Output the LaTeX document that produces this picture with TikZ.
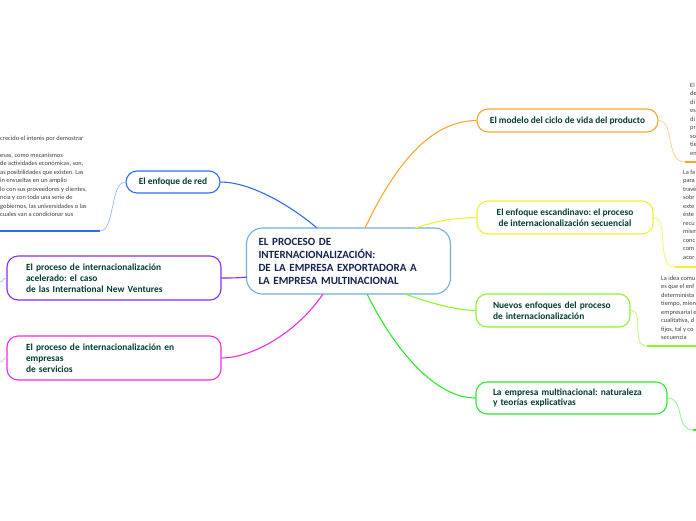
\documentclass[tikz,border=0pt]{standalone}
\usepackage{fontspec}
\setmainfont{Carlito}
\frenchspacing
\begin{document}
\begin{tikzpicture}[x=1pt,y=-1pt,
  box/.style={draw,rounded corners=11pt,line width=1.1pt,fill=white,font=\bfseries\fontsize{9.4}{10.8}\selectfont,text=green!30!black!80!blue,inner ysep=0pt,minimum height=#1},
  sm/.style={anchor=north west,align=left,inner sep=0pt,font=\fontsize{6.4}{8.5}\selectfont,text=black!75},
  con/.style={line width=#1},
  con/.default=0.9pt]
\useasboundingbox (0,0) rectangle (696,520);
\clip (0,0) rectangle (696,520);
\definecolor{cen}{HTML}{6FAEDD}
\definecolor{org}{HTML}{FFA62B}
\definecolor{yel}{HTML}{F5F02A}
\definecolor{lgr}{HTML}{8EF52A}
\definecolor{grn}{HTML}{2EE82E}
\definecolor{blu}{HTML}{2F6BF0}
\definecolor{pur}{HTML}{8A2BF0}
\definecolor{mag}{HTML}{EE2BE8}
% central
\node[box=66pt,draw=cen,line width=1.1pt,rounded corners=16pt,text width=180pt,align=left,inner xsep=12pt,font=\bfseries\fontsize{11}{13}\selectfont,text={rgb,255:red,20;green,35;blue,80},minimum width=203pt] (c) at (348.5,261) {EL PROCESO DE\\INTERNACIONALIZACIÓN:\\DE LA EMPRESA EXPORTADORA A\\LA EMPRESA MULTINACIONAL};
\coordinate (c1) at (365,228);
\coordinate (c2) at (415,228);
\coordinate (c3) at (405,294);
\coordinate (c4) at (367,294);
\coordinate (c5) at (317,228);
\coordinate (c6) at (247,277);
\coordinate (c7) at (323,294);
% right nodes
\node[box=23pt,draw=org,minimum width=181pt] (n1) at (567.5,120.5) {El modelo del ciclo de vida del producto};
\node[box=33pt,draw=yel,minimum width=176pt,align=center] (n2) at (565,217.5) {El enfoque escandinavo: el proceso\\de internacionalización secuencial};
\node[box=33pt,draw=lgr,text width=120pt,inner xsep=17pt,align=left] (n3) at (553,310.5) {Nuevos enfoques del proceso\\de internacionalización};
\node[box=32pt,draw=grn,text width=157pt,inner xsep=17pt,align=left] (n4) at (571.5,398) {La empresa multinacional: naturaleza\\y teorías explicativas};
% left nodes
\node[box=22pt,draw=blu,minimum width=94pt] (n5) at (173,182) {El enfoque de red};
\node[box=44pt,draw=pur,text width=176pt,inner xsep=19pt,align=left] (n6) at (114,278) {El proceso de internacionalización\\acelerado: el caso\\de las International New Ventures};
\node[box=44pt,draw=mag,text width=176pt,inner xsep=19pt,align=left] (n7) at (114,358) {El proceso de internacionalización en\\empresas\\ de servicios};
% main connectors
\draw[org,con=1.1pt] (c1) .. controls (395,165) and (430,121) .. (n1.west);
\draw[yel,con=1.1pt] (c2) .. controls (440,220) and (455,218) .. (n2.west);
\draw[lgr,con=1.1pt] (c3) .. controls (430,303) and (455,310) .. (n3.west);
\draw[grn,con=1.1pt] (c4) .. controls (400,360) and (440,398) .. (n4.west);
\draw[blu,con=1.1pt] (c5) .. controls (290,205) and (250,182) .. (n5.east);
\draw[pur,con=1.1pt] (c6) .. controls (238,278) and (230,278) .. (n6.east);
\draw[mag,con=1.1pt] (c7) .. controls (295,335) and (250,358) .. (n7.east);
% small stubs left
\coordinate (s6) at (0,282);
\coordinate (s7) at (0,362);
\draw[pur!40,con=0.7pt] (n6.west) .. controls (3,278) and (3,282) .. (s6);
\draw[mag!40,con=0.7pt] (n7.west) .. controls (3,358) and (3,362) .. (s7);
% text blocks
\node[sm] (t5) at (0,135.5) {crecido el interés por demostrar\\ \\esas, como mecanismos\\de actividades económicas, son,\\as posibilidades que existen. Las\\in envueltas en un amplio\\lo con sus proveedores y clientes,\\ncia y con toda una serie de\\gobiernos, las universidades o las\\cuales van a condicionar sus};
\coordinate (u5a) at (0,231); \coordinate (u5b) at (100,231);
\draw[blu,line width=1.4pt] (u5a) -- (u5b);
\draw[blu!50,con=0.7pt] (u5b) .. controls (115,231) and (110,182) .. (n5.west);

\node[sm] (t1) at (690,82.5) {El\\de\\di\\es\\di\\pr\\so\\tie\\en};
\coordinate (u1a) at (685,162); \coordinate (u1b) at (696,162);
\draw[org,line width=1.4pt] (u1a) -- (u1b);
\draw[org!60,con=0.7pt] (n1.east) .. controls (675,121) and (665,162) .. (u1a);

\node[sm] (t2) at (683,169.5) {La fa\\para\\través\\sobr\\exte\\éste\\recu\\mism\\conc\\com\\acor};
\coordinate (u2a) at (675,267); \coordinate (u2b) at (696,267);
\draw[yel,line width=1.4pt] (u2a) -- (u2b);
\draw[yel!80,con=0.7pt] (n2.east) .. controls (670,218) and (655,267) .. (u2a);

\node[sm] (t3) at (661,275.5) {La idea comu\\es que el enf\\determinista\\tiempo, mien\\empresarial e\\cualitativa, d\\fijos, tal y co\\secuencia};
\coordinate (u3a) at (647,346); \coordinate (u3b) at (696,346);
\draw[lgr,line width=1.4pt] (u3a) -- (u3b);
\draw[lgr!70,con=0.7pt] (n3.east) .. controls (645,310) and (630,346) .. (u3a);

\coordinate (u4a) at (693,430); \coordinate (u4b) at (696,430);
\draw[grn,line width=1.4pt] (u4a) -- (u4b);
\draw[grn!60,con=0.7pt] (n4.east) .. controls (685,398) and (675,430) .. (u4a);
\end{tikzpicture}
\end{document}
